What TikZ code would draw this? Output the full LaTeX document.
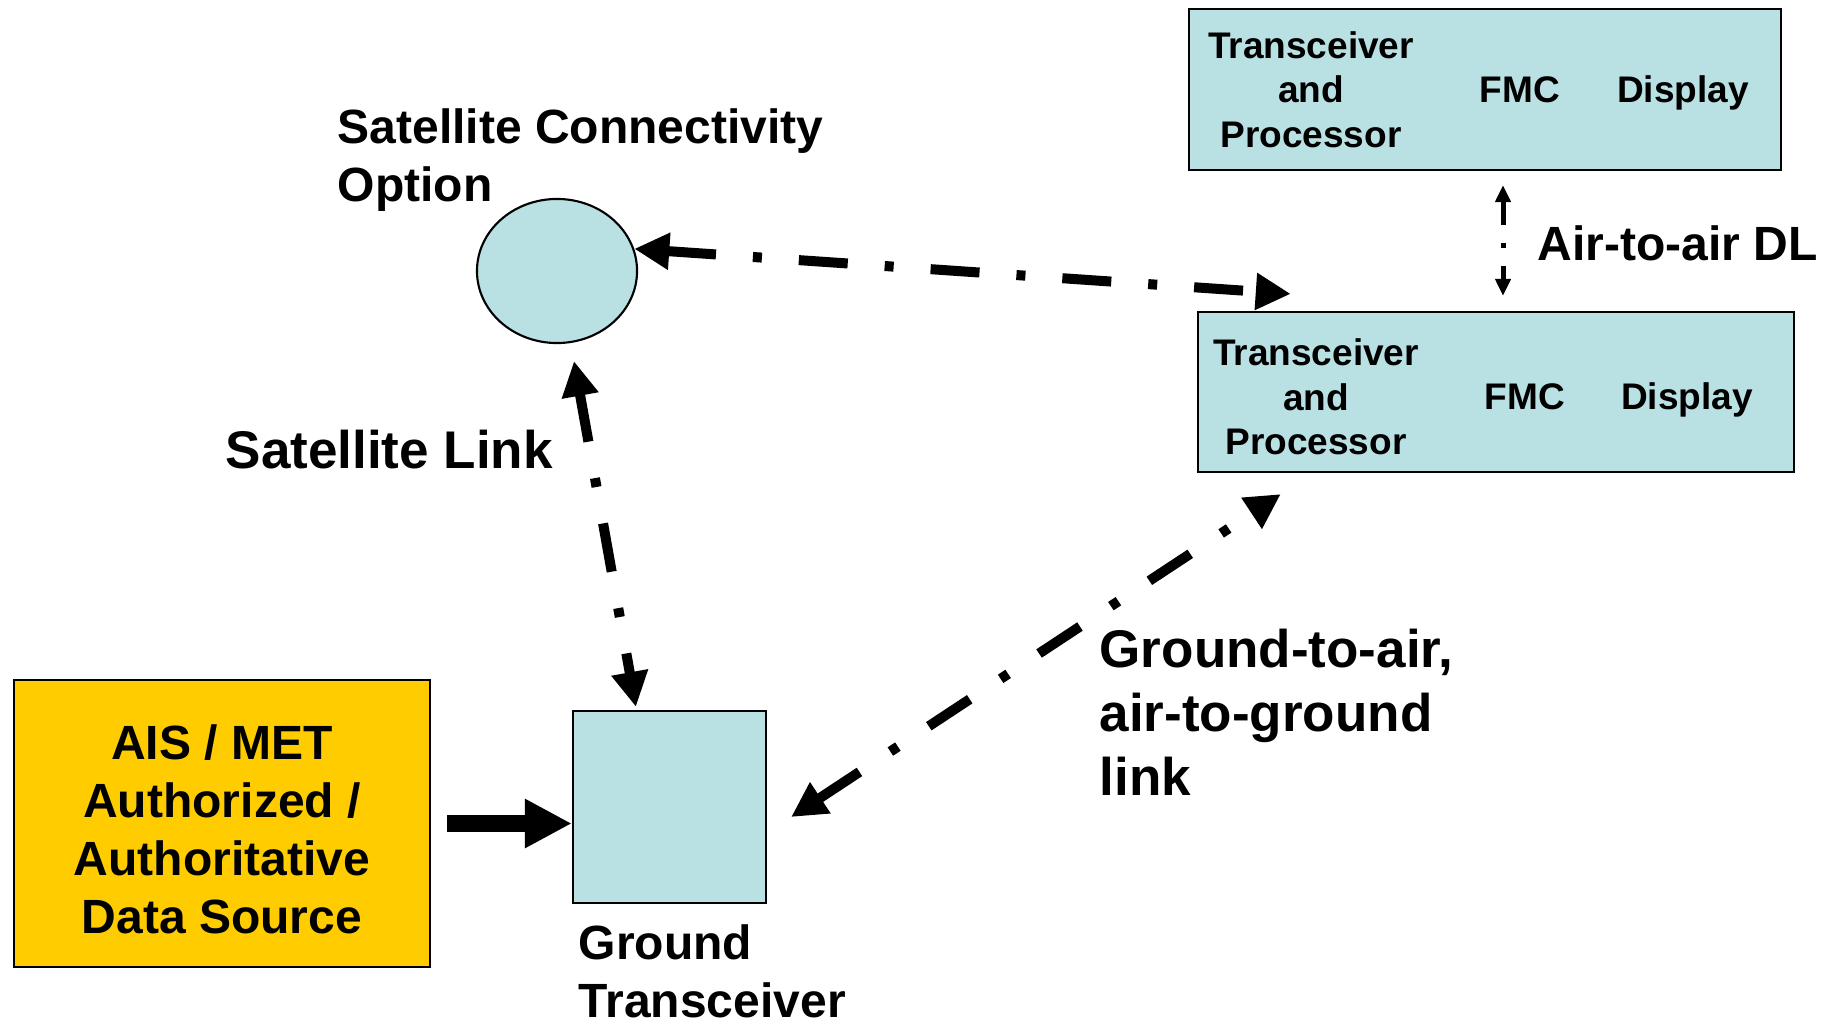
\documentclass[tikz,border=0pt]{standalone}
\usepackage{fontspec}
\setmainfont{Liberation Sans}
\usetikzlibrary{arrows.meta,calc,shapes.geometric}
\definecolor{linkblue}{RGB}{185,224,227}
\definecolor{aisgold}{RGB}{255,204,0}

\begin{document}
\begin{tikzpicture}[x=0.01cm,y=-0.01cm,
    unit/.style={draw,line width=0.6pt,fill=linkblue,inner sep=0pt},
    boxlabel/.style={font=\fontsize{10.53}{12.63}\selectfont\bfseries,align=center,inner sep=0pt},
    midlabel/.style={font=\fontsize{13.66}{16.5}\selectfont\bfseries,align=left,inner sep=0pt,anchor=west},
    biglabel/.style={font=\fontsize{15.08}{18.14}\selectfont\bfseries,align=left,inner sep=0pt,anchor=west},
    radiolink/.style={line width=0.1cm,dash pattern=on 0.49cm off 0.37cm on 0.09cm off 0.37cm,
        {Triangle[length=0.35cm,width=0.35cm]}-{Triangle[length=0.35cm,width=0.35cm]}},
    airlink/.style={line width=0.05cm,dash pattern=on 0.24cm off 0.18cm on 0.045cm off 0.18cm,
        {Triangle[length=0.17cm,width=0.15cm]}-{Triangle[length=0.17cm,width=0.15cm]}}]
    \useasboundingbox (0,0) rectangle (1831,1022);

    % Aircraft (upper)
    \node[unit,minimum width=5.92cm,minimum height=1.61cm] (airtop) at (1485,89.5) {};
    \node[boxlabel] (tp1) at (1311,89.5) {Transceiver\\and\\Processor};
    \node[boxlabel] (fmc1) at (1520,90) {FMC};
    \node[boxlabel] (disp1) at (1683,92.5) {Display};

    % Aircraft (lower)
    \node[unit,minimum width=5.96cm,minimum height=1.60cm] (airbot) at (1496,392) {};
    \node[boxlabel] (tp2) at (1316,397) {Transceiver\\and\\Processor};
    \node[boxlabel] (fmc2) at (1525,397) {FMC};
    \node[boxlabel] (disp2) at (1687,399.5) {Display};

    % Satellite
    \node[unit,ellipse,minimum width=1.6cm,minimum height=1.44cm] (sat) at (557,271) {};
    \node[midlabel] (satopt) at (337,160) {Satellite Connectivity\\Option};

    % Ground side
    \node[unit,minimum width=1.93cm,minimum height=1.92cm] (gnd) at (669.5,807) {};
    \node[midlabel] (gndlbl) at (578,971) {Ground\\Transceiver};
    \node[draw,line width=0.6pt,fill=aisgold,minimum width=4.16cm,minimum height=2.87cm] (ais)
        at (222,823.5) {};
    \node[inner sep=0pt,align=center,font=\fontsize{13.66}{16.5}\selectfont\bfseries] (aistxt)
        at ($(ais.center)+(0,6)$) {AIS / MET\\Authorized /\\Authoritative\\Data Source};

    % Links
    \draw[radiolink] (sat.16) -- ($(airbot.north west)+(94,-17)$);
    \draw[radiolink] ($(sat.south)+(17,17)$) -- ($(gnd.north west)+(64,-3)$);
    \draw[radiolink] ($(gnd.east)+(24,10)$) -- ($(airbot.south west)+(84,21)$);
    \draw[airlink] ($(airtop.south)+(18,14)$) -- ($(airbot.north)+(7,-15)$);
    \draw[line width=0.16cm,-{Triangle[length=0.47cm,width=0.46cm]}] ($(ais.east)+(16,0)$) -- (ais.east -| gnd.west);

    \node[biglabel] (satlink) at (225,450) {Satellite Link};
    \node[biglabel] (g2a) at (1099,712) {Ground-to-air,\\air-to-ground\\link};
    \node[midlabel] (a2a) at (1537,243) {Air-to-air DL};
\end{tikzpicture}
\end{document}
